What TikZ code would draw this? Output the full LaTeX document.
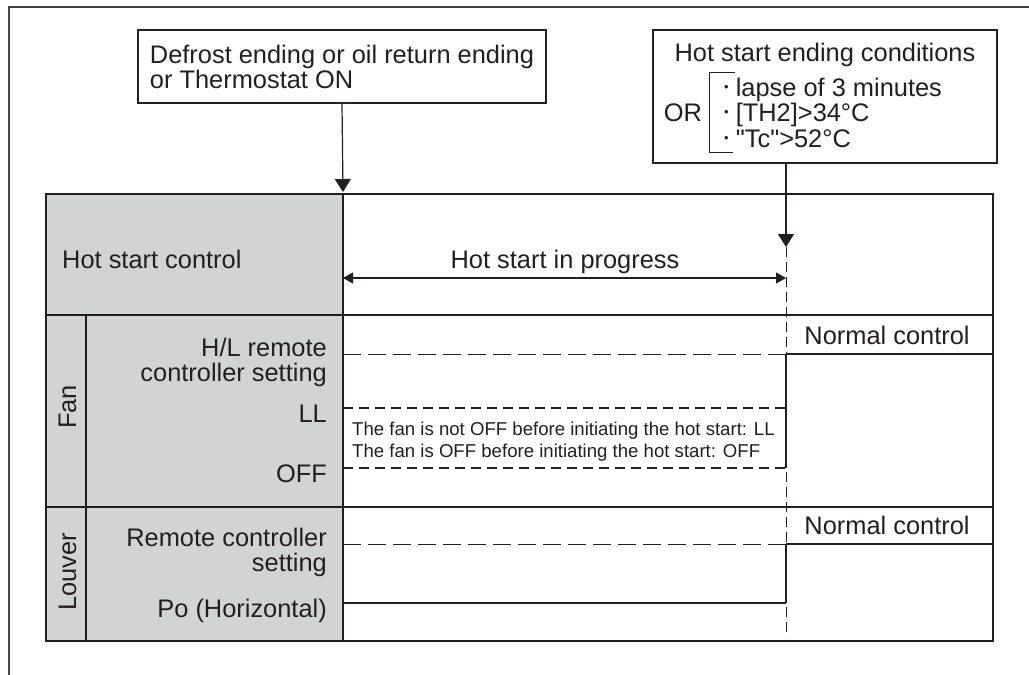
\documentclass[tikz,border=0pt]{standalone}
\usepackage{fontspec}
\setmainfont{Liberation Sans}[Ligatures=TeXOff]
\usetikzlibrary{arrows.meta}
\definecolor{ink}{RGB}{35,31,32}
\definecolor{panel}{RGB}{209,211,212}
\newcommand{\dotmark}{\raisebox{5pt}{\fontsize{13}{13}\selectfont\textbullet}}
\tikzset{
  big/.style={font=\fontsize{25.4}{25}\selectfont,text=ink,inner sep=0pt},
  lbl/.style={big,text height=18pt,text depth=0pt},
  small/.style={font=\fontsize{18.6}{22}\selectfont,text=ink,inner sep=0pt},
  cond/.style={draw=ink,line width=1.2pt,big},
  conn/.style={draw=ink,line width=1.2pt},
  tbl/.style={draw=ink,line width=2.6pt},
  lvl/.style={draw=ink,line width=2.3pt},
  fanlvl/.style={draw=ink,line width=2.4pt,dash pattern=on 10pt off 6pt},
  setlvl/.style={draw=ink,line width=1pt,dash pattern=on 18pt off 7pt},
  timeline/.style={draw=ink,line width=1pt,dash pattern=on 10pt off 5pt},
  bigtip/.style={-{Triangle[length=13pt,width=16pt]}},
}

\begin{document}
\begin{tikzpicture}[x=1pt,y=-1pt]
  \useasboundingbox (0,0) rectangle (1029,675);
  \draw[ink!85,line width=1.3pt] (1029,7) -- (9,7) -- (9,675);

  % conditions
  \node[cond,minimum width=408pt,minimum height=73pt,align=left] (defrost) at (342,66.5)
    {Defrost ending or oil return ending\\or Thermostat ON};
  \node[cond,minimum width=344pt,minimum height=133pt] (ending) at (825,96.5) {};
  \node[lbl] (endtitle) at (825,52) {Hot start ending conditions};
  \node[lbl] (or) at (683,112) {OR};
  \foreach \y/\n/\t in {87/c1/lapse of 3 minutes,112/c2/[TH2]>34°C,138/c3/"Tc">52°C}
    \node[lbl,anchor=west] (\n) at (724,\y) {\dotmark\ \t};
  \draw[ink,line width=1pt] (735,72) -| (709,152) -- (733,152);

  % table
  \fill[panel] (46,194) rectangle (343,641);
  \draw[tbl] (46,194) rectangle (993,641);
  \draw[tbl] (343,194) -- (343,641) (46,315) -- (993,315) (46,507) -- (993,507) (86,315) -- (86,641);

  \coordinate (on) at (343,192);
  \coordinate (hit) at (786,247);
  \coordinate (tend) at (786,637);
  \coordinate (t0) at (343,278);
  \coordinate (t1) at (786,278);
  \draw[conn,bigtip] (defrost.south) -- (on);
  \draw[conn,bigtip] (ending.south -| hit) -- (hit);
  \draw[timeline] (hit) -- (tend);

  % hot start row
  \node[lbl,anchor=west] (hsc) at (62,259) {Hot start control};
  \node[lbl] (prog) at (565,259) {Hot start in progress};
  \draw[conn,{Triangle[length=10pt,width=11pt]}-{Triangle[length=10pt,width=11pt]}] (t0) -- (t1);

  % fan and louver
  \foreach \y in {354,544} {
    \draw[setlvl] (343,\y) -- (786,\y);
    \draw[lvl] (786,\y) -- (993,\y);
    \node[lbl] (norm\y) at (887,\y-19) {Normal control};
  }
  \node[lbl,rotate=90] (fan) at (67,407) {Fan};
  \node[big,anchor=east,align=right] (hl) at (327,362) {H/L remote\\controller setting};
  \node[lbl,anchor=east] (ll) at (327,413) {LL};
  \node[lbl,anchor=east] (off) at (327,473) {OFF};
  \draw[fanlvl] (343,408) -- (786,408);
  \draw[fanlvl] (343,468) -- (786,468);
  \draw[conn] (786,354) -- (786,468);
  \node[small,anchor=west,align=left] (note) at (352,442)
    {The fan is not OFF before initiating the hot start: LL\\The fan is OFF before initiating the hot start: OFF};

  \node[lbl,rotate=90] (louver) at (67,572) {Louver};
  \node[big,anchor=east,align=right] (rc) at (327,552) {Remote controller\\setting};
  \node[lbl,anchor=east] (po) at (327,608) {Po (Horizontal)};
  \draw[lvl] (343,603) -- (786,603);
  \draw[conn] (786,544) -- (786,603);
\end{tikzpicture}
\end{document}
